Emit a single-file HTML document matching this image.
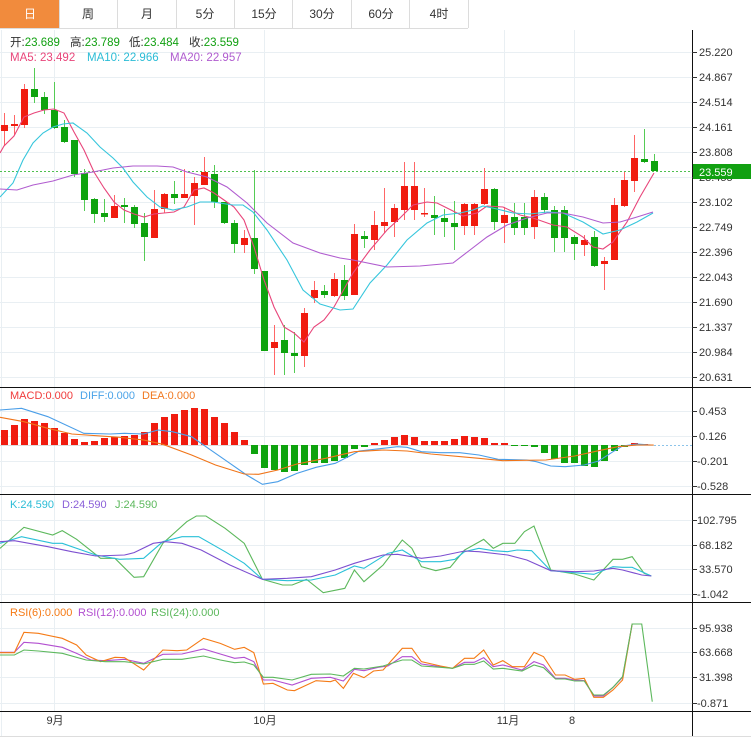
<!DOCTYPE html>
<html><head><meta charset="utf-8"><style>
html,body{margin:0;padding:0;background:#fff;width:751px;height:741px;overflow:hidden}
body{font-family:"Liberation Sans","Noto Sans CJK SC",sans-serif}
svg text{font-family:"Liberation Sans","Noto Sans CJK SC",sans-serif}
</style></head><body>
<svg width="751" height="741" xmlns="http://www.w3.org/2000/svg">
<rect width="751" height="741" fill="#fff"/>
<!-- tabs -->
<rect x="0" y="0" width="59" height="29" fill="#f18b3d"/>
<g stroke="#dcdcdc" stroke-width="1">
<line x1="0" y1="28.5" x2="468" y2="28.5"/>
<line x1="59.5" y1="0" x2="59.5" y2="28"/><line x1="117.5" y1="0" x2="117.5" y2="28"/>
<line x1="176.5" y1="0" x2="176.5" y2="28"/><line x1="234.5" y1="0" x2="234.5" y2="28"/>
<line x1="292.5" y1="0" x2="292.5" y2="28"/><line x1="351.5" y1="0" x2="351.5" y2="28"/>
<line x1="409.5" y1="0" x2="409.5" y2="28"/><line x1="468.5" y1="0" x2="468.5" y2="28"/>
</g>
<g font-size="12" text-anchor="middle" fill="#333">
<text x="30" y="18" fill="#fff">日</text><text x="88" y="18">周</text><text x="147" y="18">月</text>
<text x="205" y="18">5分</text><text x="264" y="18">15分</text><text x="322" y="18">30分</text>
<text x="381" y="18">60分</text><text x="439" y="18">4时</text>
</g>
<!-- grid -->
<g stroke="#e9eff3" stroke-width="1">
<line x1="54.5" y1="30" x2="54.5" y2="711"/><line x1="264.5" y1="30" x2="264.5" y2="711"/>
<line x1="504.5" y1="30" x2="504.5" y2="711"/><line x1="574.5" y1="30" x2="574.5" y2="711"/>
<line x1="1.5" y1="30" x2="1.5" y2="736"/>
<line x1="0" y1="52.5" x2="692" y2="52.5"/><line x1="0" y1="77.5" x2="692" y2="77.5"/>
<line x1="0" y1="102.5" x2="692" y2="102.5"/><line x1="0" y1="127.5" x2="692" y2="127.5"/>
<line x1="0" y1="152.5" x2="692" y2="152.5"/><line x1="0" y1="177.5" x2="692" y2="177.5"/>
<line x1="0" y1="202.5" x2="692" y2="202.5"/><line x1="0" y1="227.5" x2="692" y2="227.5"/>
<line x1="0" y1="252.5" x2="692" y2="252.5"/><line x1="0" y1="277.5" x2="692" y2="277.5"/>
<line x1="0" y1="302.5" x2="692" y2="302.5"/><line x1="0" y1="327.5" x2="692" y2="327.5"/>
<line x1="0" y1="352.5" x2="692" y2="352.5"/><line x1="0" y1="377.5" x2="692" y2="377.5"/>
<line x1="0" y1="411.5" x2="692" y2="411.5"/><line x1="0" y1="436.5" x2="692" y2="436.5"/>
<line x1="0" y1="461.5" x2="692" y2="461.5"/><line x1="0" y1="486.5" x2="692" y2="486.5"/>
<line x1="0" y1="520.5" x2="692" y2="520.5"/><line x1="0" y1="545.5" x2="692" y2="545.5"/>
<line x1="0" y1="569.5" x2="692" y2="569.5"/><line x1="0" y1="594.5" x2="692" y2="594.5"/>
<line x1="0" y1="628.5" x2="692" y2="628.5"/><line x1="0" y1="652.5" x2="692" y2="652.5"/>
<line x1="0" y1="677.5" x2="692" y2="677.5"/><line x1="0" y1="703.5" x2="692" y2="703.5"/>
<line x1="0" y1="736.5" x2="751" y2="736.5" stroke="#ddd"/>
</g>
<!-- panel separators -->
<g stroke="#111" stroke-width="1">
<line x1="0" y1="387.5" x2="751" y2="387.5"/><line x1="0" y1="494.5" x2="751" y2="494.5"/>
<line x1="0" y1="602.5" x2="751" y2="602.5"/><line x1="0" y1="711.5" x2="751" y2="711.5"/>
<line x1="692.5" y1="30" x2="692.5" y2="736"/>
</g>
<!-- axis ticks & labels -->
<g stroke="#333"><path d="M692 52.5h5M692 77.5h5M692 102.5h5M692 127.5h5M692 152.5h5M692 177.5h5M692 202.5h5M692 227.5h5M692 252.5h5M692 277.5h5M692 302.5h5M692 327.5h5M692 352.5h5M692 377.5h5M692 411.5h5M692 436.5h5M692 461.5h5M692 486.5h5M692 520.5h5M692 545.5h5M692 569.5h5M692 594.5h5M692 628.5h5M692 652.5h5M692 677.5h5M692 703.5h5"/></g>
<g font-size="11" fill="#333">
<text x="699" y="56">25.220</text><text x="699" y="81">24.867</text><text x="699" y="106">24.514</text>
<text x="699" y="131">24.161</text><text x="699" y="156">23.808</text><text x="699" y="181">23.455</text>
<text x="699" y="206">23.102</text><text x="699" y="231">22.749</text><text x="699" y="256">22.396</text>
<text x="699" y="281">22.043</text><text x="699" y="306">21.690</text><text x="699" y="331">21.337</text>
<text x="699" y="356">20.984</text><text x="699" y="381">20.631</text>
<text x="699" y="415">0.453</text><text x="699" y="440">0.126</text><text x="697" y="465">-0.201</text><text x="697" y="490">-0.528</text>
<text x="697" y="524">102.795</text><text x="699" y="549">68.182</text><text x="699" y="573">33.570</text><text x="697" y="598">-1.042</text>
<text x="699" y="632">95.938</text><text x="699" y="656">63.668</text><text x="699" y="681">31.398</text><text x="697" y="707">-0.871</text>
</g>
<!-- price line & label -->
<line x1="0" y1="171.5" x2="692" y2="171.5" stroke="#4fc04f" stroke-dasharray="2,2"/>
<rect x="693" y="164" width="58" height="15" fill="#11a011"/>
<text x="699" y="176" font-size="11" fill="#fff">23.559</text>
<!-- candles -->
<g>
<g stroke="#f66" stroke-width="1">
<path d="M4.5 113V146M14.5 115V135M24.5 84V128M114.5 195V218M154.5 190V238M164.5 193V213M184.5 169V198M194.5 177V225M204.5 157V185M244.5 230V253M274.5 325V375M304.5 308V367M314.5 281V303M334.5 273V297M354.5 224V295M374.5 211V250M384.5 188V233M394.5 204V237M404.5 162V220M414.5 162V220M424.5 188V217M464.5 203V235M474.5 203V235M484.5 168V205M504.5 207V243M534.5 190V239M584.5 235V256M604.5 257V290M614.5 198V260M624.5 172V207M634.5 135V192"/>
</g>
<g stroke="#5c5" stroke-width="1">
<path d="M34.5 68V103M44.5 92V114M54.5 82V129M64.5 120V143M74.5 140V177M84.5 169V211M94.5 198V223M104.5 199V222M124.5 198V223M134.5 205V228M144.5 213V261M174.5 181V204M214.5 165V208M224.5 202V224M234.5 220V253M254.5 170V274M264.5 271V351M284.5 325V375M294.5 332V373M324.5 285V298M344.5 265V300M364.5 231V248M434.5 196V235M444.5 209V237M454.5 201V250M494.5 188V230M514.5 203V235M524.5 203V235M544.5 193V213M554.5 206V252M564.5 206V252M574.5 235V260M594.5 231V267M644.5 129V163M654.5 154V171"/>
</g>
<g fill="#f01c10">
<rect x="1" y="125" width="7" height="6"/><rect x="11" y="124" width="7" height="2"/><rect x="21" y="89" width="7" height="36"/>
<rect x="111" y="206" width="7" height="12"/><rect x="151" y="209" width="7" height="29"/><rect x="161" y="194" width="7" height="15"/>
<rect x="181" y="194" width="7" height="4"/><rect x="191" y="183" width="7" height="13"/><rect x="201" y="172" width="7" height="13"/>
<rect x="241" y="238" width="7" height="7"/><rect x="271" y="342" width="7" height="6"/><rect x="301" y="313" width="7" height="43"/>
<rect x="311" y="290" width="7" height="8"/><rect x="331" y="279" width="7" height="17"/><rect x="351" y="234" width="7" height="61"/>
<rect x="371" y="225" width="7" height="15"/><rect x="381" y="222" width="7" height="4"/><rect x="391" y="208" width="7" height="14"/>
<rect x="401" y="186" width="7" height="24"/><rect x="411" y="186" width="7" height="24"/><rect x="421" y="213" width="7" height="1.5"/>
<rect x="461" y="204" width="7" height="22"/><rect x="471" y="204" width="7" height="22"/><rect x="481" y="189" width="7" height="15"/>
<rect x="501" y="215" width="7" height="8"/><rect x="531" y="197" width="7" height="30"/><rect x="581" y="240" width="7" height="5"/>
<rect x="601" y="261" width="7" height="3"/><rect x="611" y="205" width="7" height="55"/><rect x="621" y="180" width="7" height="26"/>
<rect x="631" y="158" width="7" height="23"/>
</g>
<g fill="#0ea30e">
<rect x="31" y="89" width="7" height="8"/><rect x="41" y="97" width="7" height="13"/><rect x="51" y="110" width="7" height="18"/>
<rect x="61" y="127" width="7" height="15"/><rect x="71" y="140" width="7" height="34"/><rect x="81" y="173" width="7" height="27"/>
<rect x="91" y="199" width="7" height="15"/><rect x="101" y="213" width="7" height="4"/><rect x="121" y="205" width="7" height="2"/>
<rect x="131" y="207" width="7" height="17"/><rect x="141" y="223" width="7" height="14"/><rect x="171" y="194" width="7" height="4"/>
<rect x="211" y="174" width="7" height="28"/><rect x="221" y="202" width="7" height="21"/><rect x="231" y="223" width="7" height="21"/>
<rect x="251" y="238" width="7" height="31"/><rect x="261" y="271" width="7" height="80"/><rect x="281" y="340" width="7" height="13"/>
<rect x="291" y="353" width="7" height="3"/><rect x="321" y="291" width="7" height="4"/><rect x="341" y="280" width="7" height="16"/>
<rect x="361" y="236" width="7" height="3"/><rect x="431" y="215" width="7" height="3"/><rect x="441" y="218" width="7" height="4"/>
<rect x="451" y="223" width="7" height="4"/><rect x="491" y="189" width="7" height="33"/><rect x="511" y="217" width="7" height="11"/>
<rect x="521" y="217" width="7" height="11"/><rect x="541" y="197" width="7" height="13"/><rect x="551" y="210" width="7" height="28"/>
<rect x="561" y="210" width="7" height="28"/><rect x="571" y="237" width="7" height="7"/><rect x="591" y="237" width="7" height="29"/>
<rect x="641" y="159" width="7" height="3"/><rect x="651" y="161" width="7" height="10"/>
</g>
</g>
<!-- MAs -->
<g fill="none" stroke-width="1.1">
<polyline stroke="#e8457a" points="0,153 4,146 14,136 24,117 34,113 44,110 54,109 64,113 74,132 84,150 94,172 104,188 114,202 124,210 134,214 144,217 154,214 164,213 174,212 184,207 194,190 204,188 214,193 224,200 234,207 244,220 254,247 264,280 274,307 284,327 294,333 304,342 314,327 324,320 334,307 353,273 370,250 387,230 400,218 413,205 427,202 437,203 447,208 463,216 477,213 487,206 503,207 520,215 533,218 553,225 567,227 583,237 593,247 603,249 613,242 627,222 640,197 654,173"/>
<polyline stroke="#36c6dc" points="0,197 13,183 23,160 33,143 43,133 53,127 63,124 73,123 87,133 100,147 113,158 123,168 133,182 147,197 160,207 173,210 187,207 200,202 213,202 233,205 243,205 253,212 267,230 287,260 303,290 320,304 340,310 353,309 370,283 387,265 407,240 427,223 443,215 460,213 473,210 483,206 497,209 513,213 530,214 547,212 563,213 583,222 603,234 620,230 637,222 653,213"/>
<polyline stroke="#b05ccf" points="0,189 17,190 33,185 53,181 73,175 93,172 113,168 133,166 157,166 173,167 187,172 207,177 227,187 247,203 267,223 293,243 320,253 340,258 353,260 387,267 420,266 453,263 470,250 487,237 507,225 527,218 547,213 563,213 583,217 603,223 620,222 637,217 653,212"/>
</g>
<!-- legends -->
<g font-size="11.5">
<text x="10" y="46" fill="#333">开:<tspan fill="#11a011">23.689</tspan></text>
<text x="70" y="46" fill="#333">高:<tspan fill="#11a011">23.789</tspan></text>
<text x="129" y="46" fill="#333">低:<tspan fill="#11a011">23.484</tspan></text>
<text x="189" y="46" fill="#333">收:<tspan fill="#11a011">23.559</tspan></text>
<text x="10" y="61" fill="#e8457a">MA5: 23.492</text><text x="87" y="61" fill="#2bbcd6">MA10: 22.966</text><text x="170" y="61" fill="#b05ccf">MA20: 22.957</text>
</g>
<g font-size="11">
<text x="10" y="399" fill="#f03a3a">MACD:0.000</text><text x="80" y="399" fill="#4aa3e8">DIFF:0.000</text><text x="142" y="399" fill="#f07820">DEA:0.000</text>
<text x="10" y="508" fill="#2bbcd6">K:24.590</text><text x="62" y="508" fill="#8a5fd8">D:24.590</text><text x="115" y="508" fill="#5cb85c">J:24.590</text>
<text x="10" y="616" fill="#f57a15">RSI(6):0.000</text><text x="78" y="616" fill="#b24fd0">RSI(12):0.000</text><text x="151" y="616" fill="#5cb85c">RSI(24):0.000</text>
</g>
<!-- MACD bars -->
<line x1="654" y1="445.5" x2="692" y2="445.5" stroke="#8cc4ea" stroke-dasharray="2,2"/>
<line x1="0" y1="445.5" x2="654" y2="445.5" stroke="#bbb" stroke-width="0.6"/>
<g fill="#f01c10">
<rect x="1" y="430" width="7" height="15"/><rect x="11" y="425" width="7" height="20"/><rect x="21" y="419" width="7" height="26"/>
<rect x="31" y="421" width="7" height="24"/><rect x="41" y="423" width="7" height="22"/><rect x="51" y="428" width="7" height="17"/>
<rect x="61" y="433" width="7" height="12"/><rect x="71" y="439" width="7" height="6"/><rect x="81" y="442" width="7" height="3"/>
<rect x="91" y="441" width="7" height="4"/><rect x="101" y="438" width="7" height="7"/><rect x="111" y="437" width="7" height="8"/>
<rect x="121" y="436" width="7" height="9"/><rect x="131" y="435" width="7" height="10"/><rect x="141" y="432" width="7" height="13"/>
<rect x="151" y="423" width="7" height="22"/><rect x="161" y="417" width="7" height="28"/><rect x="171" y="414" width="7" height="31"/>
<rect x="181" y="410" width="7" height="35"/><rect x="191" y="408" width="7" height="37"/><rect x="201" y="409" width="7" height="36"/>
<rect x="211" y="417" width="7" height="28"/><rect x="221" y="423" width="7" height="22"/><rect x="231" y="432" width="7" height="13"/>
<rect x="241" y="440" width="7" height="5"/>
<rect x="371" y="443" width="7" height="2"/><rect x="381" y="440" width="7" height="5"/><rect x="391" y="437" width="7" height="8"/>
<rect x="401" y="435" width="7" height="10"/><rect x="411" y="437" width="7" height="8"/><rect x="421" y="441" width="7" height="4"/>
<rect x="431" y="441" width="7" height="4"/><rect x="441" y="441" width="7" height="4"/><rect x="451" y="439" width="7" height="6"/>
<rect x="461" y="436" width="7" height="9"/><rect x="471" y="437" width="7" height="8"/><rect x="481" y="438" width="7" height="7"/>
<rect x="491" y="443" width="7" height="2"/><rect x="501" y="443" width="7" height="2"/>
<rect x="631" y="443" width="7" height="2"/><rect x="641" y="444" width="7" height="1"/>
</g>
<g fill="#0ea30e">
<rect x="251" y="445" width="7" height="9"/><rect x="261" y="445" width="7" height="23"/><rect x="271" y="445" width="7" height="25"/>
<rect x="281" y="445" width="7" height="27"/><rect x="291" y="445" width="7" height="26"/><rect x="301" y="445" width="7" height="20"/>
<rect x="311" y="445" width="7" height="18"/><rect x="321" y="445" width="7" height="18"/><rect x="331" y="445" width="7" height="16"/>
<rect x="341" y="445" width="7" height="13"/><rect x="351" y="445" width="7" height="4"/><rect x="361" y="445" width="7" height="2"/>
<rect x="511" y="445" width="7" height="1"/><rect x="521" y="445" width="7" height="1"/><rect x="531" y="445" width="7" height="2"/>
<rect x="541" y="445" width="7" height="8"/><rect x="551" y="445" width="7" height="14"/><rect x="561" y="445" width="7" height="18"/>
<rect x="571" y="445" width="7" height="18"/><rect x="581" y="445" width="7" height="21"/><rect x="591" y="445" width="7" height="22"/>
<rect x="601" y="445" width="7" height="16"/><rect x="611" y="445" width="7" height="6"/><rect x="621" y="445" width="7" height="2"/>
</g>
<g fill="none" stroke-width="1.1">
<g transform="translate(0,380) scale(0.4789,0.33333)">
<polyline vector-effect="non-scaling-stroke" stroke="#4a9ee8" points="0,90 45,85 100,110 175,160 230,162 260,160 300,162 330,150 360,155 400,170 430,200 480,250 515,285 548,313 580,305 620,280 660,262 700,250 730,228 750,213 800,205 830,200 850,202 880,215 920,218 960,218 1000,225 1040,238 1100,240 1120,245 1150,258 1180,260 1220,255 1250,243 1280,215 1300,198 1330,192 1360,195"/>
<polyline vector-effect="non-scaling-stroke" stroke="#f07418" points="0,112 50,125 100,145 150,162 250,172 300,180 340,193 400,225 450,255 510,282 540,283 580,270 620,252 680,235 740,215 800,210 850,213 900,222 1000,235 1050,242 1140,240 1200,228 1250,212 1290,200 1330,195 1365,195"/>
</g>
<g transform="translate(0,490) scale(0.4789,0.33333)">
<polyline vector-effect="non-scaling-stroke" stroke="#5cb85c" points="0,175 50,112 110,135 130,122 160,148 210,205 240,205 280,262 300,260 340,160 390,95 410,78 430,78 470,115 510,160 548,268 590,285 610,285 640,268 675,308 720,295 740,240 760,275 800,225 840,150 860,175 880,230 910,242 940,232 970,180 1010,148 1030,175 1050,160 1075,160 1095,125 1115,108 1150,240 1200,252 1240,270 1280,208 1300,208 1320,200 1345,250 1360,258"/>
<polyline vector-effect="non-scaling-stroke" stroke="#29c0d8" points="0,160 45,140 110,160 130,160 200,195 250,208 300,205 340,155 380,140 415,140 470,185 510,220 548,268 600,272 650,270 700,255 740,228 760,235 810,190 840,180 880,215 920,215 950,208 970,185 1000,175 1030,182 1060,185 1080,180 1110,182 1150,242 1200,248 1240,253 1280,230 1300,232 1320,232 1360,258"/>
<polyline vector-effect="non-scaling-stroke" stroke="#7d4fd0" points="0,155 30,152 100,170 150,185 200,198 260,195 280,188 320,160 345,155 380,160 420,180 480,225 548,268 600,265 650,260 700,240 740,220 800,195 830,193 880,205 920,198 970,183 1000,185 1060,195 1100,210 1150,242 1200,245 1240,243 1280,235 1300,240 1340,255 1360,258"/>
</g>
<g transform="translate(0,600) scale(0.4789,0.33333)">
<polyline vector-effect="non-scaling-stroke" stroke="#b24fd0" points="0,157 30,157 50,127 80,130 130,142 160,160 190,180 220,182 260,178 300,190 340,163 380,162 425,147 460,162 490,175 510,172 530,185 550,240 570,240 610,255 650,235 690,232 717,243 740,208 760,212 790,202 810,198 840,170 860,170 880,192 920,200 945,205 970,187 990,187 1010,173 1030,200 1050,195 1090,210 1115,185 1135,195 1160,235 1180,235 1200,240 1220,242 1240,288 1260,288 1280,262 1300,232 1320,72 1340,72"/>
<polyline vector-effect="non-scaling-stroke" stroke="#f57a15" points="0,158 30,158 50,97 80,100 130,115 160,135 180,165 210,185 240,172 260,173 300,210 340,150 370,152 390,150 425,115 460,130 490,148 510,142 530,158 550,252 570,250 600,270 615,272 660,242 690,245 700,240 717,265 738,220 760,233 780,213 800,210 840,145 860,145 880,185 920,198 945,205 970,175 990,175 1010,150 1030,195 1050,182 1070,200 1095,200 1115,157 1135,170 1160,225 1180,225 1200,238 1220,235 1240,292 1260,292 1280,270 1300,240 1320,72 1340,72"/>
<polyline vector-effect="non-scaling-stroke" stroke="#5cb85c" points="0,165 30,165 50,150 80,153 130,160 180,180 220,185 260,185 300,192 340,178 380,178 425,168 460,180 490,188 510,186 530,195 550,232 570,232 610,240 650,223 690,222 717,228 740,205 760,207 800,198 840,180 860,180 880,198 920,202 945,205 970,193 990,193 1010,183 1030,207 1050,205 1090,213 1115,195 1135,203 1160,237 1180,237 1200,243 1220,243 1240,285 1260,285 1280,262 1300,230 1320,72 1340,72 1362,305"/>
</g>
</g>
<!-- x labels -->
<g font-size="11" fill="#333" text-anchor="middle">
<text x="55" y="724">9月</text><text x="265" y="724">10月</text><text x="508" y="724">11月</text><text x="572" y="724">8</text>
</g>
</svg>
</body></html>
